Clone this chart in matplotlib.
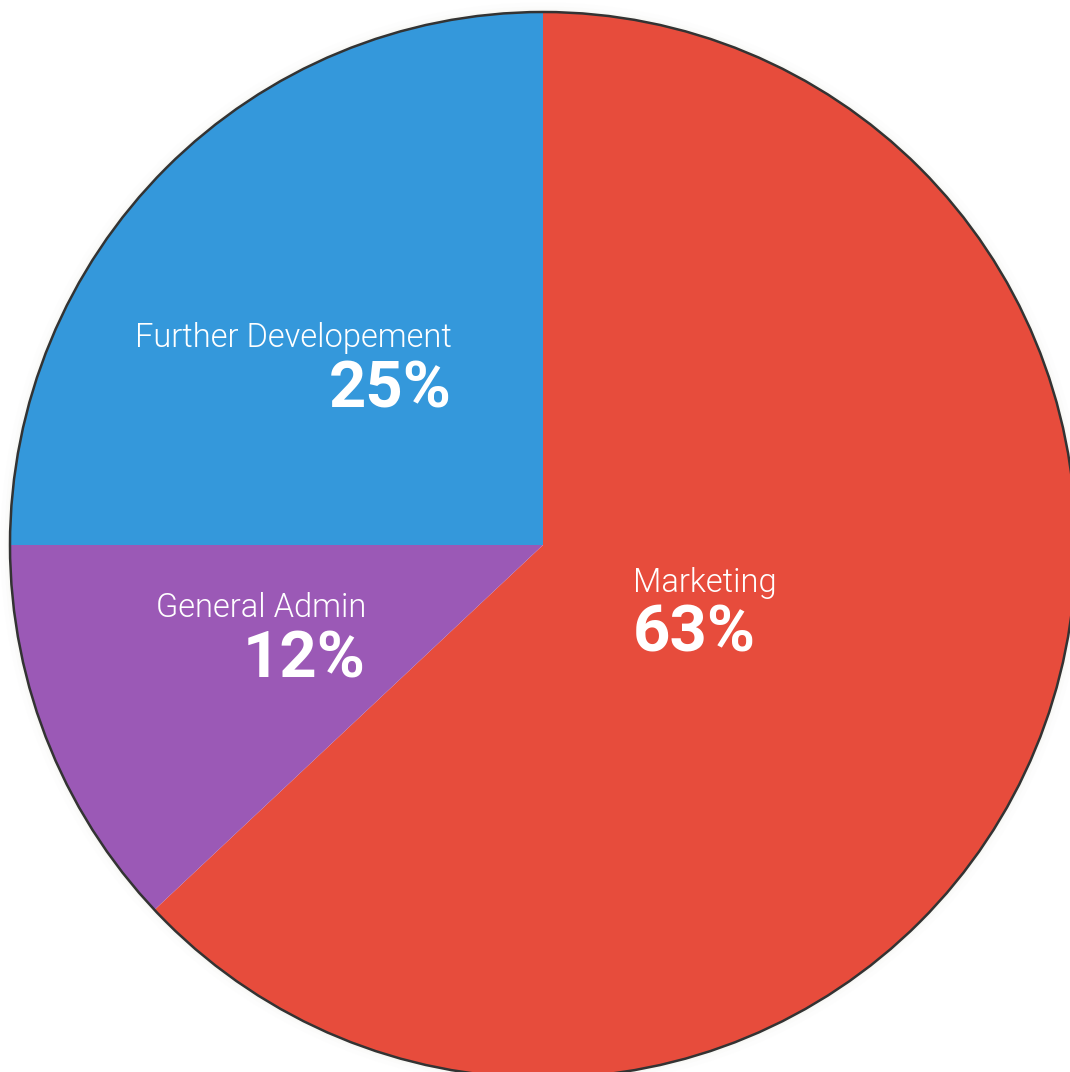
"""Budget allocation pie chart."""

import matplotlib.pyplot as plt
from matplotlib.patches import Circle

categories = ["Marketing", "General Admin", "Further Developement"]
shares = [63, 12, 25]
colors = ["#e74c3c", "#9b59b6", "#3498db"]

W, H = 1070, 1072
cx, cy, r = 543, H - 545, 533

fig = plt.figure(figsize=(W / 100, H / 100), dpi=100)
fig.patch.set_facecolor("white")
ax = fig.add_axes([0, 0, 1, 1])

# faint glow around the disc
for w, a in [(14, 0.015), (8, 0.025), (4, 0.04)]:
    ax.add_patch(Circle((cx, cy), r, fill=False, edgecolor="#b8b090", linewidth=w, alpha=a, zorder=0))

ax.pie(shares, colors=colors, startangle=90, counterclock=False, center=(cx, cy), radius=r,
       wedgeprops={"linewidth": 0}, frame=True)
ax.set_xlim(0, W)
ax.set_ylim(0, H)
ax.set_aspect("equal")
ax.axis("off")
ax.add_patch(Circle((cx, cy), r, fill=False, edgecolor="#333333", linewidth=1.8, zorder=5))

# label anchors: (x, name baseline, pct baseline, alignment)
label_pos = {
    "Marketing": (633, 592, 652, "left"),
    "General Admin": (366, 617, 677, "right"),
    "Further Developement": (452, 347, 407, "right"),
}
for name, pct in zip(categories, shares):
    x, yn, yp, ha = label_pos[name]
    ax.text(x, H - yn, name, ha=ha, va="baseline", color="white", fontsize=23.5,
            family="Roboto", fontweight=300, zorder=6)
    ax.text(x, H - yp, f"{pct}%", ha=ha, va="baseline", color="white", fontsize=47,
            family="Roboto", fontweight="bold", zorder=6)

fig.savefig("out.png", dpi=100, facecolor="white")
plt.close(fig)
